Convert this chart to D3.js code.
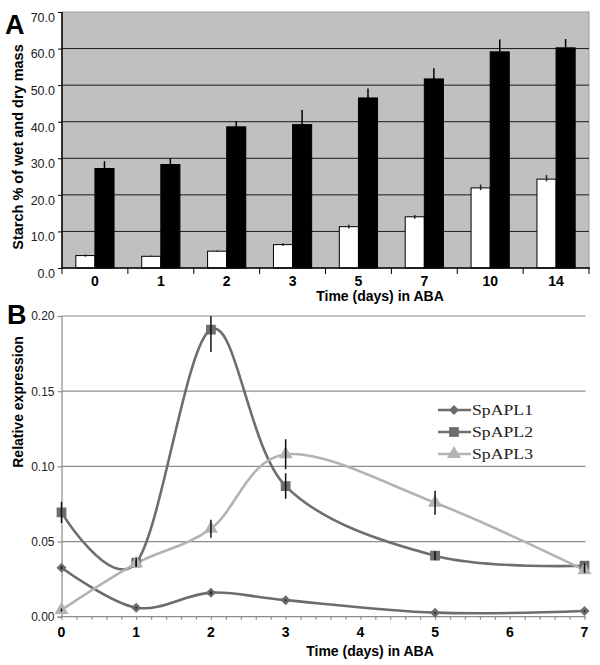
<!DOCTYPE html>
<html><head><meta charset="utf-8">
<script src="https://cdn.jsdelivr.net/npm/d3@7/dist/d3.min.js"></script>
<style>body{margin:0;background:#fff}svg{display:block}text{font-family:"Liberation Sans",Arial,sans-serif}text.serif{font-family:"Liberation Serif","Times New Roman",serif}</style>
</head><body>
<script>
// ---- Panel A data ----
const daysA = ["0","1","2","3","5","7","10","14"];
const wetMass = [3.4, 3.2, 4.6, 6.4, 11.3, 14.0, 21.9, 24.3];
const wetErr  = [0.3, 0.2, 0.2, 0.4, 0.5, 0.5, 0.9, 1.1];
const dryMass = [27.2, 28.3, 38.6, 39.2, 46.5, 51.7, 59.1, 60.2];
const dryErr  = [2.0, 1.7, 1.6, 4.0, 2.6, 2.9, 3.4, 2.4];
const yTicksA = [0,10,20,30,40,50,60,70];

// ---- Panel B data ----
const daysB = [0, 1, 2, 3, 5, 7];
const spapl1 = [0.0326, 0.0060, 0.0160, 0.0110, 0.0027, 0.0038];
const spapl1Err = [0.001, 0.0005, 0.001, 0.0005, 0.0005, 0.0005];
const spapl2 = [0.0694, 0.0360, 0.1910, 0.0869, 0.0406, 0.0339];
const spapl2Err = [0.007, 0.003, 0.015, 0.0085, 0.003, 0.002];
const spapl3 = [0.0045, 0.0355, 0.0585, 0.1080, 0.0758, 0.0310];
const spapl3Err = [0.001, 0.002, 0.006, 0.010, 0.008, 0.002];
const yTicksB = [0, 0.05, 0.10, 0.15, 0.20];
const xTicksB = [0,1,2,3,4,5,6,7];
const seriesNames = ["SpAPL1","SpAPL2","SpAPL3"];

const svg = d3.select("body").append("svg").attr("width",600).attr("height",665);

// ================= Panel A =================
const A = {l:62, r:589, t:12, b:268};
const xA = d3.scaleBand().domain(daysA).range([A.l, A.r]);
const xInner = d3.scaleBand().domain(["wet","dry"]).range([xA.bandwidth()*0.21, xA.bandwidth()*0.79]);
const yA = d3.scaleLinear().domain([0,70]).range([A.b, A.t]);

svg.append("rect").attr("x",A.l).attr("y",A.t).attr("width",A.r-A.l).attr("height",A.b-A.t)
  .attr("fill","#c0c0c0").attr("stroke","#9a9a9a").attr("stroke-width",1);
svg.append("g").selectAll("line").data(yTicksA.filter(d=>d>0&&d<70)).join("line")
  .attr("x1",A.l).attr("x2",A.r).attr("y1",d=>yA(d)).attr("y2",d=>yA(d))
  .attr("stroke","#1a1a1a").attr("stroke-width",1);

const gA = svg.append("g");
daysA.forEach((d,i)=>{
  [["wet",wetMass[i],wetErr[i],"#fff"],["dry",dryMass[i],dryErr[i],"#000"]].forEach(([k,v,e,c])=>{
    const x = xA(d)+xInner(k);
    gA.append("rect").attr("x",x).attr("y",yA(v)).attr("width",xInner.bandwidth()).attr("height",yA(0)-yA(v))
      .attr("fill",c).attr("stroke","#000").attr("stroke-width",1);
    const cx = x + xInner.bandwidth()/2;
    gA.append("line").attr("x1",cx).attr("x2",cx).attr("y1",yA(v-Math.min(e,0.6))).attr("y2",yA(v+e))
      .attr("stroke", k==="dry" ? "#000" : "#222").attr("stroke-width",1.5);
  });
});

// axes A
svg.append("line").attr("x1",A.l).attr("x2",A.r+1).attr("y1",A.b).attr("y2",A.b).attr("stroke","#000").attr("stroke-width",1.5);
svg.append("g").selectAll("line").data(daysA.map(d=>xA(d)).concat([A.r])).join("line")
  .attr("x1",d=>d).attr("x2",d=>d).attr("y1",A.b).attr("y2",A.b+6).attr("stroke","#000");
svg.append("g").selectAll("text").data(daysA).join("text")
  .attr("x",d=>xA(d)+xA.bandwidth()/2).attr("y",286).attr("text-anchor","middle")
  .attr("font-size",14).attr("font-weight","bold").text(d=>d);

const ayA = svg.append("g").attr("transform",`translate(${A.l},0)`)
  .call(d3.axisLeft(yA).tickValues(yTicksA).tickSize(4).tickPadding(3).tickFormat(d3.format(".1f")));
ayA.select(".domain").attr("stroke","#000").attr("stroke-width",1.5).attr("d",`M0,${A.t}V${A.b}`);
ayA.selectAll("text").attr("font-size",12.5).attr("dy","0.75em").attr("fill","#222");

svg.append("text").attr("transform","translate(23,147) rotate(-90)").attr("text-anchor","middle")
  .attr("font-size",14.5).attr("font-weight","bold").text("Starch % of wet and dry mass");
svg.append("text").attr("x",380).attr("y",301).attr("text-anchor","middle")
  .attr("font-size",14).attr("font-weight","bold").text("Time (days) in ABA");
svg.append("text").attr("x",5).attr("y",34).attr("font-size",27).attr("font-weight","bold").text("A");

// ================= Panel B =================
const B = {l:61.5, r:584.5, t:316, b:616.7};
const xB = d3.scaleLinear().domain([0,7]).range([B.l, B.r]);
const yB = d3.scaleLinear().domain([0,0.2]).range([B.b, B.t]);

svg.append("defs").append("clipPath").attr("id","clipB").append("rect")
  .attr("x",B.l-8).attr("y",B.t).attr("width",B.r-B.l+16).attr("height",B.b-B.t+8);

svg.append("g").selectAll("line").data(yTicksB.filter(d=>d>0)).join("line")
  .attr("x1",B.l).attr("x2",B.r+1).attr("y1",d=>yB(d)).attr("y2",d=>yB(d))
  .attr("stroke","#8c8c8c").attr("stroke-width",1.2);

const ayB = svg.append("g").attr("transform",`translate(${B.l},0)`)
  .call(d3.axisLeft(yB).tickValues(yTicksB).tickSize(4).tickPadding(3).tickFormat(d3.format(".2f")));
ayB.selectAll("line,path").attr("stroke","#8c8c8c").attr("stroke-width",1.2);
ayB.selectAll("text").attr("font-size",12).attr("fill","#222");

const axB = svg.append("g").attr("transform",`translate(0,${B.b})`)
  .call(d3.axisBottom(xB).ticks(35).tickSize(3).tickFormat(""));
axB.selectAll("line,path").attr("stroke","#8c8c8c").attr("stroke-width",1.2);
axB.select(".domain").attr("d",`M${B.l},0H${B.r+1}`);
svg.append("g").selectAll("text").data(xTicksB).join("text")
  .attr("x",d=>xB(d)).attr("y",637).attr("text-anchor","middle")
  .attr("font-size",14).attr("font-weight","bold").text(d=>d);

const series = [
  {name:seriesNames[0], v:spapl1, e:spapl1Err, c:"#6c6c6c", m:"diamond"},
  {name:seriesNames[1], v:spapl2, e:spapl2Err, c:"#6e6e6e", m:"square"},
  {name:seriesNames[2], v:spapl3, e:spapl3Err, c:"#b3b3b3", m:"triangle"}
];
const line = d3.line().x((d,i)=>xB(daysB[i])).y(d=>yB(d)).curve(d3.curveCardinal.tension(0));
const symType = {diamond:d3.symbolSquare, square:d3.symbolSquare, triangle:d3.symbolTriangle};
const symSize = {diamond:50, square:95, triangle:85};
const rot = {diamond:" rotate(45)", square:"", triangle:""};
const gB = svg.append("g").attr("clip-path","url(#clipB)");
series.forEach(s=>{
  gB.append("path").attr("d",line(s.v)).attr("fill","none").attr("stroke",s.c).attr("stroke-width",2.6);
});
series.forEach(s=>{
  gB.append("g").selectAll("path").data(s.v).join("path")
    .attr("transform",(d,i)=>`translate(${xB(daysB[i])},${yB(d)})${rot[s.m]}`)
    .attr("d",d3.symbol().type(symType[s.m]).size(symSize[s.m])).attr("fill",s.c);
});
series.forEach(s=>{
  gB.append("g").selectAll("line").data(s.v).join("line")
    .attr("x1",(d,i)=>xB(daysB[i])).attr("x2",(d,i)=>xB(daysB[i]))
    .attr("y1",(d,i)=>yB(d-s.e[i])).attr("y2",(d,i)=>yB(d+s.e[i]))
    .attr("stroke","#111").attr("stroke-width",1.5);
});

// legend
const leg = svg.append("g");
const legY = [410, 432, 454];
series.forEach((s,i)=>{
  leg.append("line").attr("x1",438).attr("x2",471).attr("y1",legY[i]).attr("y2",legY[i]).attr("stroke",s.c).attr("stroke-width",2.6);
  leg.append("path").attr("transform",`translate(454,${legY[i]})${rot[s.m]}`).attr("d",d3.symbol().type(symType[s.m]).size(symSize[s.m])).attr("fill",s.c);
  leg.append("text").attr("class","serif").attr("x",472).attr("y",legY[i]+5)
    .attr("font-size",15).attr("textLength",61).attr("lengthAdjust","spacingAndGlyphs").attr("fill","#222").text(s.name);
});

svg.append("text").attr("transform","translate(23,402) rotate(-90)").attr("text-anchor","middle")
  .attr("font-size",14).attr("font-weight","bold").text("Relative expression");
svg.append("text").attr("x",370).attr("y",656).attr("text-anchor","middle")
  .attr("font-size",14).attr("font-weight","bold").text("Time (days) in ABA");
svg.append("text").attr("x",7).attr("y",324).attr("font-size",27).attr("font-weight","bold").text("B");
</script>
</body></html>
